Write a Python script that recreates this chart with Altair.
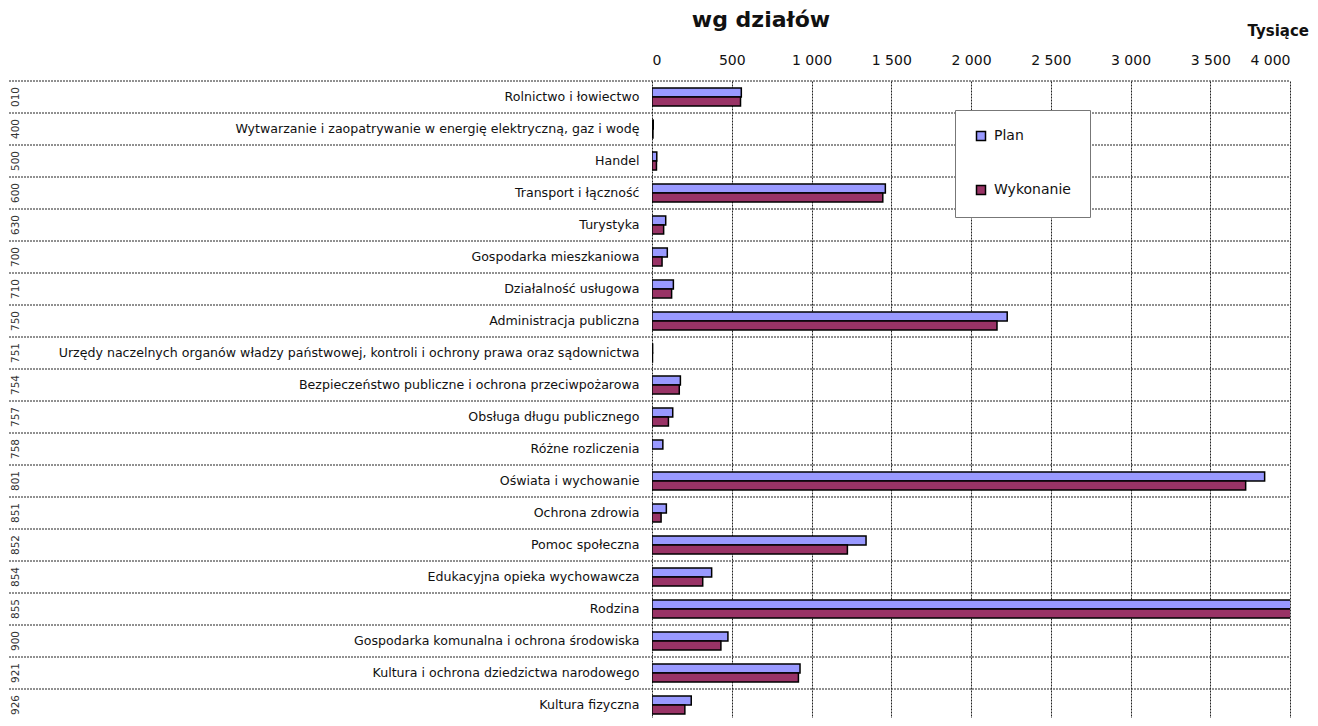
import altair as alt
import pandas as pd

codes = ["010", "400", "500", "600", "630", "700", "710", "750", "751", "754",
         "757", "758", "801", "851", "852", "854", "855", "900", "921", "926"]
names = [
    "Rolnictwo i łowiectwo",
    "Wytwarzanie i zaopatrywanie w energię elektryczną, gaz i wodę",
    "Handel",
    "Transport i łączność",
    "Turystyka",
    "Gospodarka mieszkaniowa",
    "Działalność usługowa",
    "Administracja publiczna",
    "Urzędy naczelnych organów władzy państwowej, kontroli i ochrony prawa oraz sądownictwa",
    "Bezpieczeństwo publiczne i ochrona przeciwpożarowa",
    "Obsługa długu publicznego",
    "Różne rozliczenia",
    "Oświata i wychowanie",
    "Ochrona zdrowia",
    "Pomoc społeczna",
    "Edukacyjna opieka wychowawcza",
    "Rodzina",
    "Gospodarka komunalna i ochrona środowiska",
    "Kultura i ochrona dziedzictwa narodowego",
    "Kultura fizyczna",
]
plan = [560, 8, 30, 1463, 86, 96, 134, 2227, 4, 178, 130, 68, 3841, 90, 1342, 374, 4600, 476, 928, 246]
wykonanie = [555, 6, 28, 1447, 73, 63, 123, 2163, 3, 171, 103, None, 3722, 57, 1225, 318, 4550, 432, 918, 206]
series = ["Plan", "Wykonanie"]
colors = ["#9999FF", "#993366"]
x_ticks = [0, 500, 1000, 1500, 2000, 2500, 3000, 3500, 4000]
header_texts = ["wg działów", "Tysiące"]

FONT = "DejaVu Sans"

rows = pd.DataFrame({"code": codes, "name": names})
long = pd.DataFrame({
    "name": names * 2,
    "series": [series[0]] * len(names) + [series[1]] * len(names),
    "value": plan + wykonanie,
})

yscale = alt.Scale(paddingInner=0, paddingOuter=0, range=[0, 640])
yaxis = alt.Axis(title=None, orient="left", domain=False, ticks=False,
                 grid=False, labelFont=FONT, labelFontSize=12.6,
                 labelColor="#111111", labelPadding=13, labelLimit=1000)

separators = alt.Chart(rows).mark_rule(
    stroke="#222222", strokeDash=[2, 1], strokeWidth=1
).encode(
    y=alt.Y("name:N", sort=names, bandPosition=0, scale=yscale, axis=yaxis),
    x=alt.value(-643),
    x2=alt.value(638),
)

bars = alt.Chart(long).mark_bar(
    stroke="black", strokeWidth=1.5, clip=True
).encode(
    y=alt.Y("name:N", sort=names, scale=yscale, axis=yaxis),
    x=alt.X("value:Q",
            scale=alt.Scale(domain=[0, 4000], nice=False),
            axis=alt.Axis(title=None, orient="top", values=x_ticks, domain=False,
                          ticks=False, tickSize=0, grid=True, gridColor="#222222",
                          gridDash=[2, 1], gridWidth=1, labelFont=FONT,
                          labelFontSize=14, labelColor="#111111", labelPadding=14,
                          labelExpr="replace(format(datum.value, ','), ',', ' ')")),
    yOffset=alt.YOffset("series:N", sort=series,
                        scale=alt.Scale(paddingInner=0, paddingOuter=0.8)),
    color=alt.Color("series:N", sort=series,
                    scale=alt.Scale(domain=series, range=colors),
                    legend=alt.Legend(orient="none", legendX=303, legendY=29,
                                      title=None, direction="vertical",
                                      padding=19, rowPadding=38,
                                      fillColor="white", strokeColor="#777777",
                                      symbolType="square", symbolSize=81,
                                      symbolStrokeColor="black",
                                      symbolStrokeWidth=1.5, labelFont=FONT,
                                      labelFontSize=14, labelColor="#111111",
                                      labelOffset=6, labelLimit=300)),
)

code_labels = alt.Chart(rows).mark_text(
    angle=270, font=FONT, fontSize=10.5, color="#333333",
    align="center", baseline="middle"
).encode(
    y=alt.Y("name:N", sort=names, scale=yscale, axis=yaxis),
    x=alt.value(-636),
    text="code:N",
)

title_text = alt.Chart(pd.DataFrame({"t": [header_texts[0]]})).mark_text(
    font=FONT, fontSize=22, fontWeight="bold", color="#111111",
    align="center", baseline="alphabetic"
).encode(x=alt.value(109), y=alt.value(-54), text="t:N")

unit_text = alt.Chart(pd.DataFrame({"t": [header_texts[1]]})).mark_text(
    font=FONT, fontSize=15, fontWeight="bold", color="#111111",
    align="right", baseline="alphabetic"
).encode(x=alt.value(657), y=alt.value(-45), text="t:N")

chart = alt.layer(separators, bars, code_labels, title_text, unit_text).properties(
    width=638,
    height=637,
    autosize=alt.AutoSizeParams(type="none"),
    padding={"left": 644, "top": 73, "right": 20, "bottom": 0},
).configure_view(stroke=None)

chart.save("out.html", embed_options={"renderer": "svg", "actions": False})
